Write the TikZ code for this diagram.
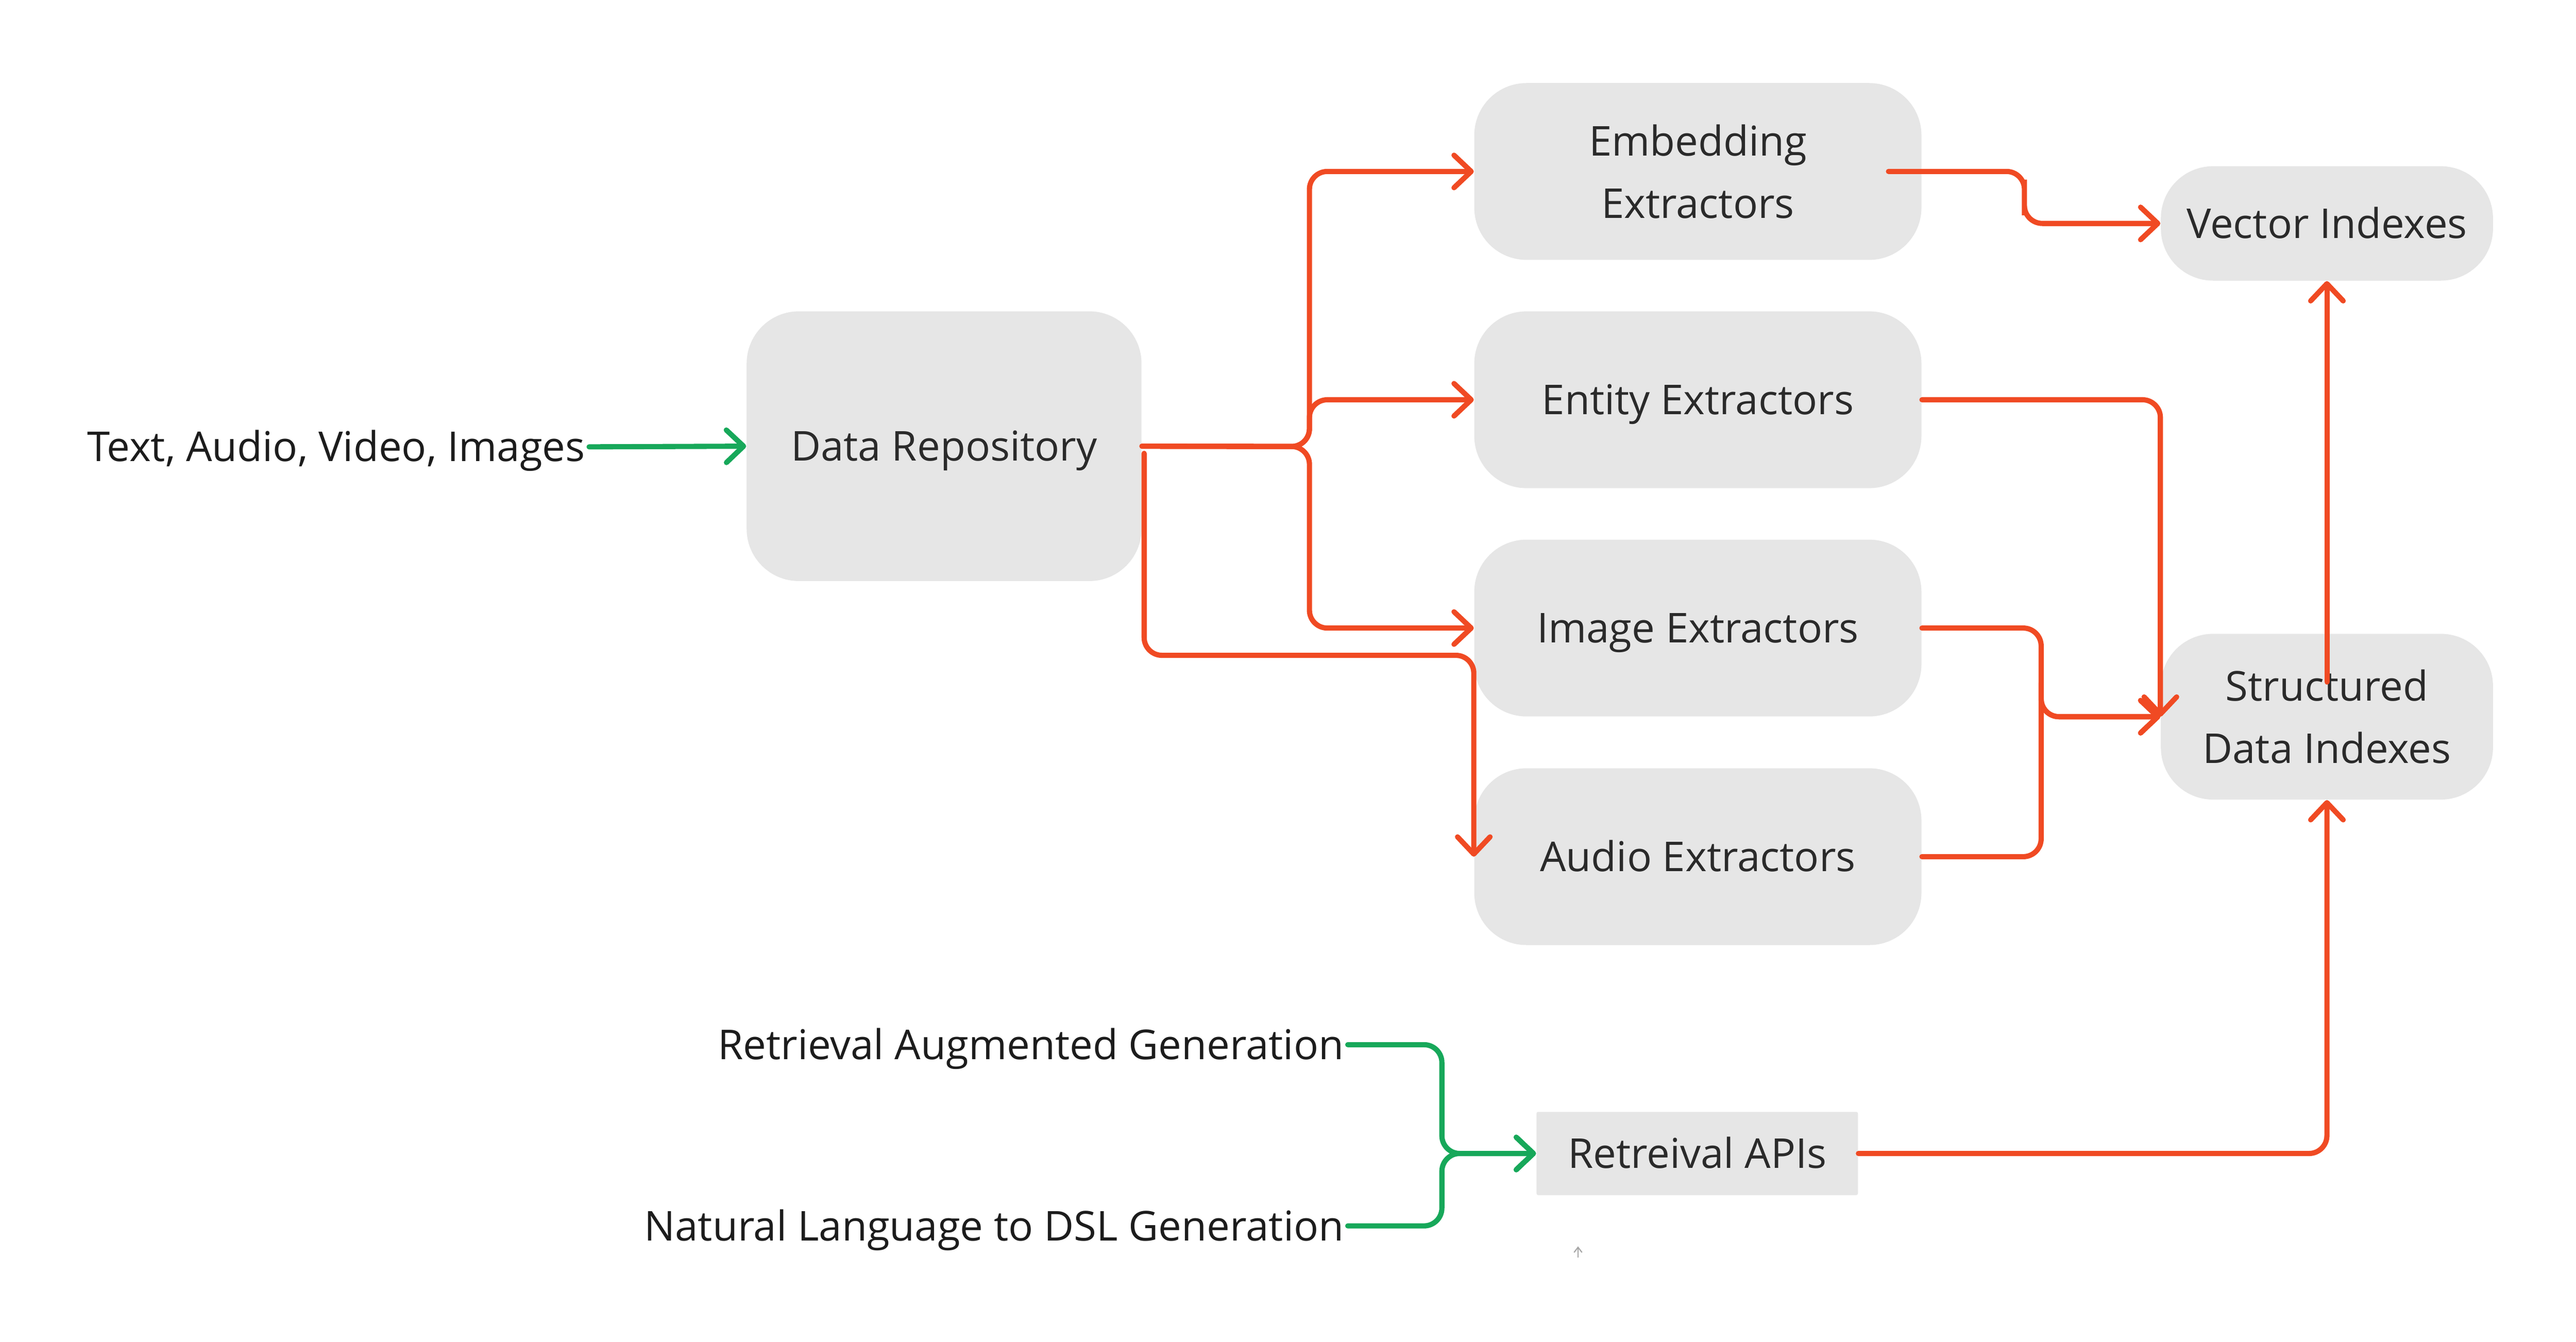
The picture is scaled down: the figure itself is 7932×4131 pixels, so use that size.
\documentclass[tikz,border=0pt]{standalone}
\usepackage{fontspec}
\setmainfont{Open Sans}
\usepackage{xcolor}
\usepackage{tikz}
\definecolor{flowred}{HTML}{F04A23}
\definecolor{feedgreen}{HTML}{17A85A}
\definecolor{boxgray}{HTML}{E6E6E6}
\definecolor{boxink}{HTML}{2A2A2A}
\definecolor{labelink}{HTML}{1C1C1C}
\usetikzlibrary{positioning, calc, arrows.meta}

\tikzset{
  box/.style={fill=boxgray, rounded corners=0.79cm, text=boxink, align=center, inner sep=0pt},
  oneline/.style={text height=12.6pt, text depth=0pt},
  extractor/.style={box, minimum width=6.765cm, minimum height=2.675cm},
  index/.style={box, minimum width=5.025cm},
  label/.style={text=labelink, inner sep=1.5pt, oneline},
  flow/.style={draw=flowred, line width=2.24pt, line cap=round, rounded corners=0.27cm,
    -{Straight Barb[length=7.4pt, width=14pt, line width=2.24pt, round]}},
  feed/.style={flow, draw=feedgreen}
}

\begin{document}
\begin{tikzpicture}[x=0.0049168cm, y=-0.0049168cm, font=\fontsize{17.7}{26.9}\selectfont]
\useasboundingbox (0,0) rectangle (7932,4131);
% Repository and extractors
\node[box, oneline, minimum width=5.974cm, minimum height=4.081cm] (repo) at (2907,1374) {Data Repository};
\node[extractor] (embed) at (5228,528) {Embedding\\Extractors};
\node[extractor, oneline] (entity) at (5228,1231) {Entity Extractors};
\node[extractor, oneline] (image) at (5228,1934) {Image Extractors};
\node[extractor, oneline] (audio) at (5228,2638) {Audio Extractors};
% Indexes and retrieval
\node[index, oneline, minimum height=1.731cm] (vector) at (7165,688) {Vector Indexes};
\node[index, minimum height=2.508cm] (struct) at (7165,2207) {Structured\\Data Indexes};
\node[box, oneline, rounded corners=0.7pt, minimum width=4.863cm, minimum height=1.259cm] (api) at (5226,3552) {Retreival APIs};
% Free labels
\node[label, anchor=east] (media) at (1814,1376) {Text, Audio, Video, Images};
\node[label, anchor=east] (rag) at (4150,3217) {Retrieval Augmented Generation};
\node[label, anchor=east] (nldsl) at (4150,3775) {Natural Language to DSL Generation};

\coordinate (fork) at (4032,1375);
\coordinate (drop) at (3523,1396);
\coordinate (merge) at ($(image.east)!0.5!(struct.west)$);
\coordinate (tail) at ($(embed.east)+(-103,0)$);

% Repository fan out
\draw[feed] (media.east) -- (repo.west);
\draw[flow] (repo.east) -- (fork) |- (embed.west);
\draw[flow] (repo.east) -- (fork) |- (entity.west);
\draw[flow] (repo.east) -- (fork) |- (image.west);
\draw[flow] (drop) |- ($(audio.west)+(0,-620)$) -- (audio.west);

% Extractors to indexes
\draw[flow] (tail) -| ($(tail)!0.5!(vector.west)$) |- (vector.west);
\draw[flow] (entity.east) -| (struct.west);
\draw[flow] (image.east) -| (merge) |- (struct.west);
\draw[flow] (audio.east) -| (merge) |- (struct.west);
\draw[flow] ($(struct.center)+(0,-107)$) -- (vector.south);
\draw[flow] (api.east) -| (struct.south);

% Consumers to retrieval
\draw[feed] (rag.east) -| ($(rag.east)!0.5!(api.west)$) |- (api.west);
\draw[feed] (nldsl.east) -| ($(nldsl.east)!0.5!(api.west)$) |- (api.west);

\coordinate (nubA) at (4859,3873);
\coordinate (nubB) at (4859,3838);
\draw[gray!70, line width=0.5pt, -{Straight Barb[length=2.2pt, width=3.4pt]}] (nubA) -- (nubB);
\end{tikzpicture}
\end{document}
